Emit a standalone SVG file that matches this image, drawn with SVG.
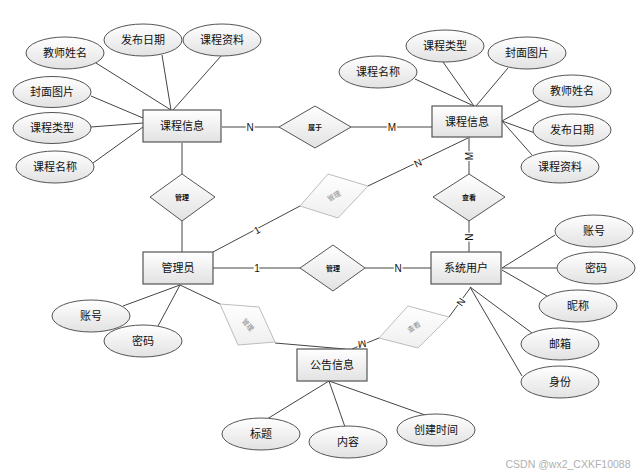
<svg xmlns="http://www.w3.org/2000/svg" width="640" height="474" viewBox="0 0 640 474">
<defs>
<linearGradient id="gb" x1="0" y1="0" x2="0" y2="1"><stop offset="0" stop-color="#ffffff"/><stop offset="1" stop-color="#e2e2e2"/></linearGradient>
<linearGradient id="gg" x1="0" y1="0" x2="0" y2="1"><stop offset="0" stop-color="#ffffff"/><stop offset="1" stop-color="#efefef"/></linearGradient>
</defs>
<style>
.box{fill:url(#gb);stroke:#555;stroke-width:1.2}
.att{fill:url(#gb);stroke:#555;stroke-width:1}
.dia{fill:url(#gb);stroke:#555;stroke-width:1}
.gdia{fill:url(#gg);stroke:#bdbdbd;stroke-width:1}
.t{font-family:"Liberation Sans","Noto Sans CJK SC",sans-serif;font-size:11px;fill:#111;text-anchor:middle;dominant-baseline:central}
.st{font-family:"Liberation Sans","Noto Sans CJK SC",sans-serif;font-size:7px;font-weight:bold;fill:#111;text-anchor:middle;dominant-baseline:central}
.gt{font-family:"Liberation Sans","Noto Sans CJK SC",sans-serif;font-size:7px;fill:#8a8a8a;text-anchor:middle;dominant-baseline:central}
.lbl{font-family:"Liberation Sans",sans-serif;font-size:10px;fill:#111;text-anchor:middle;dominant-baseline:central;stroke:#fff;stroke-width:3;paint-order:stroke}
.c line{stroke:#444;stroke-width:1}
</style>
<g class="c" id="connectors">
<line x1="96" y1="63" x2="171" y2="110"/>
<line x1="162" y1="55" x2="171" y2="110"/>
<line x1="221" y1="56" x2="173" y2="110"/>
<line x1="91" y1="96" x2="143" y2="118"/>
<line x1="91" y1="127" x2="143" y2="123"/>
<line x1="93" y1="163" x2="143" y2="127"/>
<line x1="222" y1="127" x2="279" y2="127"/>
<line x1="351" y1="127" x2="432" y2="127"/>
<line x1="182" y1="143" x2="182" y2="174"/>
<line x1="182" y1="221" x2="182" y2="252"/>
<line x1="415" y1="79" x2="474" y2="106"/>
<line x1="443" y1="62" x2="474" y2="106"/>
<line x1="508" y1="68" x2="476" y2="106"/>
<line x1="540" y1="100" x2="502" y2="121"/>
<line x1="535" y1="133" x2="502" y2="121"/>
<line x1="532" y1="155" x2="502" y2="121"/>
<line x1="469" y1="137" x2="469" y2="174"/>
<line x1="469" y1="221" x2="469" y2="252"/>
<line x1="468" y1="138" x2="368" y2="186"/>
<line x1="300" y1="206" x2="213" y2="252"/>
<line x1="213" y1="268" x2="300" y2="268"/>
<line x1="365" y1="268" x2="431" y2="268"/>
<line x1="555" y1="235" x2="502" y2="268"/>
<line x1="557" y1="268" x2="502" y2="268"/>
<line x1="547" y1="296" x2="502" y2="270"/>
<line x1="532" y1="333" x2="470" y2="287"/>
<line x1="522" y1="376" x2="470" y2="287"/>
<line x1="471" y1="287" x2="449" y2="317"/>
<line x1="379" y1="338" x2="352" y2="349"/>
<line x1="180" y1="285" x2="220" y2="304"/>
<line x1="275" y1="343" x2="345" y2="349"/>
<line x1="180" y1="285" x2="123" y2="306"/>
<line x1="180" y1="285" x2="158" y2="326"/>
<line x1="329" y1="381" x2="267" y2="419"/>
<line x1="329" y1="381" x2="345" y2="427"/>
<line x1="329" y1="381" x2="425" y2="415"/>
<text class="lbl" x="250" y="127">N</text>
<text class="lbl" x="392" y="127">M</text>
<text class="lbl" x="469" y="156" transform="rotate(-90 469 156)">M</text>
<text class="lbl" x="469" y="237" transform="rotate(-90 469 237)">N</text>
<text class="lbl" x="418" y="163" transform="rotate(-26 418 163)">N</text>
<text class="lbl" x="257" y="230" transform="rotate(-28 257 230)">1</text>
<text class="lbl" x="257" y="268">1</text>
<text class="lbl" x="398" y="268">N</text>
<text class="lbl" x="461" y="302" transform="rotate(-55 461 302)">N</text>
<text class="lbl" x="362" y="344" transform="rotate(172 362 344)">M</text>
</g>
<g id="n-course-left"><rect class="box" x="143" y="110" width="78" height="32"/><text class="t" x="182" y="126">课程信息</text></g>
<g id="n-course-right"><rect class="box" x="432" y="106" width="70" height="31"/><text class="t" x="467" y="122">课程信息</text></g>
<g id="n-admin"><rect class="box" x="143" y="252" width="70" height="32"/><text class="t" x="178" y="268">管理员</text></g>
<g id="n-user"><rect class="box" x="431" y="252" width="70" height="32"/><text class="t" x="466" y="268">系统用户</text></g>
<g id="n-notice"><rect class="box" x="297" y="349" width="70" height="32"/><text class="t" x="332" y="365">公告信息</text></g>
<g id="r-belong"><polygon class="dia" points="315,106 351,127 315,148 279,127"/><text class="st" x="315" y="127">属于</text></g>
<g id="r-manage1"><polygon class="dia" points="182,174 215,197 182,221 150,197"/><text class="st" x="182" y="197">管理</text></g>
<g id="r-view1"><polygon class="dia" points="469,174 505,197 469,221 433,197"/><text class="st" x="469" y="197">查看</text></g>
<g id="r-manage2"><polygon class="dia" points="333,245 365,268 333,291 300,268"/><text class="st" x="333" y="268">管理</text></g>
<g id="r-manage-g1"><polygon class="gdia" points="328,174 368,186 338,218 300,206"/><text class="gt" x="334" y="196" transform="rotate(-30 334 196)">管理</text></g>
<g id="r-manage-g2"><polygon class="gdia" points="220,304 259,307 275,342 238,345"/><text class="gt" x="248" y="325" transform="rotate(50 248 325)">管理</text></g>
<g id="r-view-g"><polygon class="gdia" points="408,306 449,317 418,348 379,338"/><text class="gt" x="414" y="327" transform="rotate(-30 414 327)">查看</text></g>
<g id="a-l1"><ellipse class="att" cx="65" cy="53" rx="39" ry="16"/><text class="t" x="65" y="53">教师姓名</text></g>
<g id="a-l2"><ellipse class="att" cx="143" cy="40" rx="39" ry="16"/><text class="t" x="143" y="40">发布日期</text></g>
<g id="a-l3"><ellipse class="att" cx="222" cy="40" rx="39" ry="16"/><text class="t" x="222" y="40">课程资料</text></g>
<g id="a-l4"><ellipse class="att" cx="52" cy="92" rx="39" ry="15.5"/><text class="t" x="52" y="92">封面图片</text></g>
<g id="a-l5"><ellipse class="att" cx="52" cy="128" rx="39" ry="15.5"/><text class="t" x="52" y="128">课程类型</text></g>
<g id="a-l6"><ellipse class="att" cx="55" cy="167" rx="39" ry="16"/><text class="t" x="55" y="167">课程名称</text></g>
<g id="a-r1"><ellipse class="att" cx="445" cy="46" rx="39" ry="16"/><text class="t" x="445" y="46">课程类型</text></g>
<g id="a-r2"><ellipse class="att" cx="527" cy="53" rx="39" ry="16"/><text class="t" x="527" y="53">封面图片</text></g>
<g id="a-r3"><ellipse class="att" cx="378" cy="72" rx="39" ry="16"/><text class="t" x="378" y="72">课程名称</text></g>
<g id="a-r4"><ellipse class="att" cx="572" cy="91" rx="39" ry="16"/><text class="t" x="572" y="91">教师姓名</text></g>
<g id="a-r5"><ellipse class="att" cx="572" cy="130" rx="39" ry="16"/><text class="t" x="572" y="130">发布日期</text></g>
<g id="a-r6"><ellipse class="att" cx="560" cy="167" rx="39" ry="16"/><text class="t" x="560" y="167">课程资料</text></g>
<g id="a-u1"><ellipse class="att" cx="594" cy="231" rx="39" ry="16"/><text class="t" x="594" y="231">账号</text></g>
<g id="a-u2"><ellipse class="att" cx="596" cy="268" rx="39" ry="16"/><text class="t" x="596" y="268">密码</text></g>
<g id="a-u3"><ellipse class="att" cx="578" cy="306" rx="39" ry="16"/><text class="t" x="578" y="306">昵称</text></g>
<g id="a-u4"><ellipse class="att" cx="560" cy="344" rx="39" ry="16"/><text class="t" x="560" y="344">邮箱</text></g>
<g id="a-u5"><ellipse class="att" cx="560" cy="382" rx="39" ry="16"/><text class="t" x="560" y="382">身份</text></g>
<g id="a-a1"><ellipse class="att" cx="91" cy="316" rx="39" ry="16"/><text class="t" x="91" y="316">账号</text></g>
<g id="a-a2"><ellipse class="att" cx="143" cy="341" rx="39" ry="16"/><text class="t" x="143" y="341">密码</text></g>
<g id="a-n1"><ellipse class="att" cx="261" cy="434" rx="39" ry="16"/><text class="t" x="261" y="434">标题</text></g>
<g id="a-n2"><ellipse class="att" cx="348" cy="442" rx="39" ry="16"/><text class="t" x="348" y="442">内容</text></g>
<g id="a-n3"><ellipse class="att" cx="436" cy="430" rx="39" ry="16"/><text class="t" x="436" y="430">创建时间</text></g>
<text x="568" y="464" font-family="Liberation Sans, sans-serif" font-size="10.5" fill="#b0b0b0" text-anchor="middle" dominant-baseline="central">CSDN @wx2_CXKF10088</text>
</svg>
